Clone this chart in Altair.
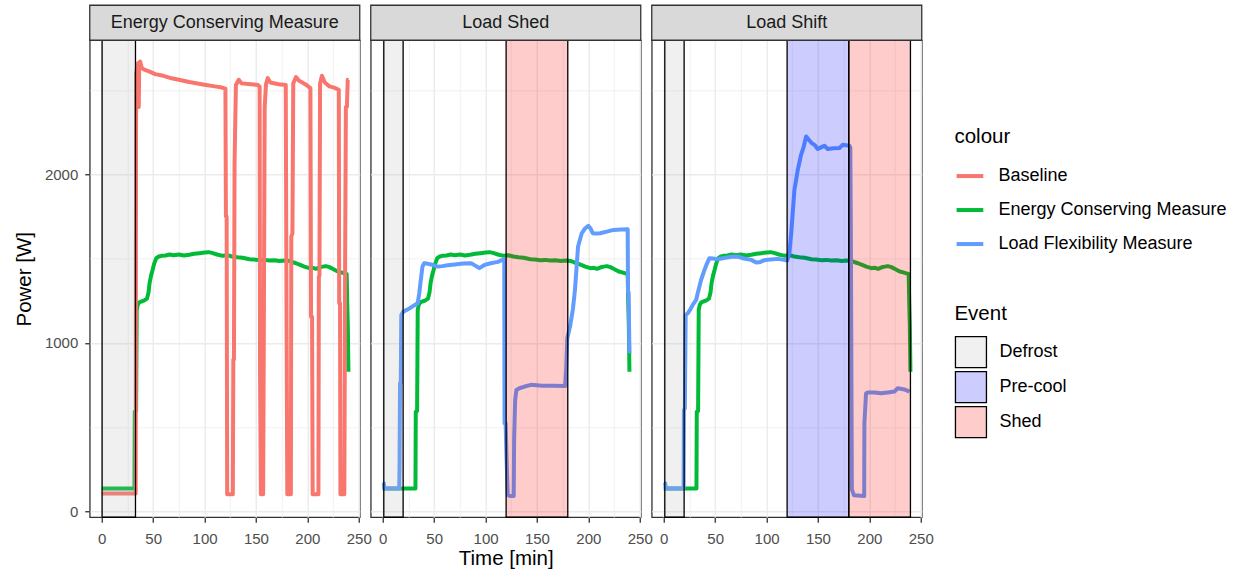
import altair as alt
import pandas as pd

# ---------------- data ----------------
panel_names = ["Energy Conserving Measure", "Load Shed", "Load Shift"]
series_names = ["Baseline", "Energy Conserving Measure", "Load Flexibility Measure"]
series_colors = ["#F8766D", "#00BA38", "#619CFF"]
event_names = ["Defrost", "Pre-cool", "Shed"]
event_key = ["#F0F0F0", "#CCCCFF", "#FFCCCC"]       # legend keys
# tint colours (drawn at 20 % opacity over the lines); listed in reverse order
tint_names = ["Shed", "Pre-cool", "Defrost"]
tint_fill = ["#FF0000", "#0000FF", "#B3B3B3"]

# Energy Conserving Measure (same run shown in every panel)
ecm_t = [0, 31.8, 32.1, 33.4, 34.0, 35.0, 36.5, 38.5, 41.0, 44.0, 45.5, 46.5, 48.0, 49.5, 51.0,
         53.0, 55.5, 58.0, 62, 66, 70, 75, 80, 85, 90, 95, 100, 104, 108, 112, 117.7, 122, 127,
         132, 137, 143.7, 148, 153.4, 158, 163, 168, 173, 178, 182.6, 186, 189, 193, 197, 202,
         205.5, 208.5, 212, 215, 218, 221.5, 225, 229.6, 233, 236, 238.3, 238.8, 239.4, 240.0]
ecm_w = [135, 135, 590, 595, 1195, 1225, 1240, 1245, 1250, 1262, 1300, 1354, 1400, 1433, 1470,
         1502, 1512, 1516, 1518, 1524, 1520, 1524, 1518, 1522, 1528, 1532, 1536, 1538, 1532, 1524,
         1516, 1520, 1512, 1508, 1505, 1496, 1494, 1490, 1492, 1488, 1490, 1486, 1488, 1486, 1478,
         1472, 1462, 1452, 1443, 1445, 1439, 1448, 1452, 1455, 1449, 1438, 1423, 1418, 1412, 1409,
         1245, 1100, 828]

# Baseline
base_t = [0, 33.0, 33.4, 34.5, 35.5, 36.0, 36.4, 37.3, 39, 42, 46, 52, 60, 68, 75, 85, 100, 110,
          117, 120.3, 120.8, 121.5, 122.0, 127.5, 128.0, 128.6, 129.2, 130.5, 133.3, 136, 145, 152,
          153.6, 154.0, 154.8, 157.0, 157.5, 158.5, 159.8, 161.5, 164, 172, 179, 179.8, 180.5,
          184.0, 184.4, 185.5, 186.3, 189, 192, 198, 203, 203.6, 204.6, 205.2, 210.8, 211.2, 211.8,
          212.4, 214.2, 217, 221.5, 226, 230.6, 231.0, 231.8, 232.2, 236.0, 236.8, 237.5, 238.5,
          239.3, 240.0]
base_w = [105, 105, 2600, 2640, 2660, 2400, 2640, 2670, 2630, 2620, 2611, 2595, 2585, 2570, 2561,
          2548, 2532, 2522, 2515, 2508, 1750, 1750, 100, 100, 900, 900, 2066, 2530, 2561, 2540,
          2535, 2530, 2520, 800, 100, 100, 810, 2400, 2535, 2571, 2545, 2535, 2530, 1100, 100, 100,
          1630, 1650, 2540, 2577, 2555, 2535, 2512, 1155, 1155, 100, 100, 1393, 1400, 2540, 2585,
          2545, 2522, 2515, 2502, 1234, 1234, 100, 100, 1500, 2400, 2400, 2561, 2560]

# Load Flexibility Measure - Load Shed
shed_t = [0, 1.0, 1.5, 16.0, 16.3, 16.8, 17.5, 18.0, 20, 25, 30, 34, 35.5, 37, 38.6, 40.2, 43, 47,
          53.5, 58, 63, 70, 78, 86, 90, 94, 99, 105, 112, 117.7, 118.2, 118.5, 119.5, 120.5, 121.6,
          124, 127.4, 127.8, 128.8, 130, 132.9, 138, 144.3, 155, 165, 177.4, 178.5, 179.5, 182.2,
          185, 187, 190, 193.6, 197, 200, 202, 204.3, 208, 211.4, 218, 224.4, 232, 238.3, 238.6,
          239.2, 240.0]
shed_w = [170, 165, 135, 135, 254, 760, 760, 1165, 1185, 1200, 1220, 1235, 1294, 1373, 1452, 1472,
          1470, 1465, 1452, 1455, 1460, 1465, 1470, 1472, 1458, 1443, 1462, 1472, 1480, 1496, 1496,
          522, 522, 300, 96, 90, 90, 432, 660, 720, 730, 740, 750, 745, 745, 743, 850, 1027, 1096,
          1200, 1314, 1571, 1650, 1680, 1694, 1680, 1650, 1648, 1650, 1660, 1670, 1672, 1674, 1300,
          1300, 938]

# Load Flexibility Measure - Load Shift
shift_t = [0, 1.5, 2.0, 19.3, 19.6, 20.5, 21.3, 23.3, 26, 28.2, 31.5, 33, 36.3, 39.6, 42, 44.4,
           47.7, 52.5, 60, 66, 72, 78, 85, 90, 94, 98, 104, 111, 117, 120, 122.2, 124, 127.1, 130.4,
           133.6, 136.2, 138.5, 141.7, 144, 146.6, 149.8, 153, 156.3, 159.5, 165, 170.9, 174, 180.6,
           181.5, 182.0, 183.0, 185, 195, 195.2, 196.8, 198.4, 205, 211.4, 218, 224.4, 227.6, 234.1,
           239]
shift_w = [170, 165, 135, 135, 600, 610, 1165, 1175, 1200, 1225, 1254, 1294, 1373, 1432, 1470, 1502,
           1500, 1496, 1505, 1510, 1512, 1500, 1492, 1476, 1480, 1490, 1495, 1498, 1492, 1488, 1532,
           1650, 1908, 2027, 2116, 2165, 2225, 2201, 2185, 2175, 2150, 2160, 2170, 2150, 2155, 2156,
           2175, 2170, 2160, 1690, 130, 95, 90, 522, 700, 704, 705, 700, 705, 710, 730, 723, 710]

# events per panel
ev1_name, ev1_start, ev1_end = ["Defrost"], [0.3], [32.8]
ev2_name, ev2_start, ev2_end = ["Defrost", "Shed"], [1.0, 120], [19.8, 180]
ev3_name, ev3_start, ev3_end = ["Defrost", "Pre-cool", "Shed"], [1.0, 120, 180], [19.8, 180, 240]

x_grid = [0, 25, 50, 75, 100, 125, 150, 175, 200, 225, 250]
y_grid = [0, 500, 1000, 1500, 2000, 2500]

# ---------------- layout constants ----------------
W, H = 270, 477
XDOM = [-11.7, 251.0]
YDOM = [-36, 2796]
FONT = "Liberation Sans"

def sdf(name, ts, ws):
    return pd.DataFrame({"t": ts, "w": ws, "series": name, "idx": list(range(len(ts)))})

def edf(names, starts, ends):
    return pd.DataFrame({"event": names, "key": names, "start": starts, "end": ends})

stroke_legend = alt.Legend(title="colour", orient="none", legendX=864.7, legendY=86.8,
                           symbolType="stroke", symbolSize=713, symbolStrokeWidth=4,
                           labelOffset=13, rowPadding=9, titlePadding=13)
fill_legend = alt.Legend(title="Event", orient="none", legendX=864.7, legendY=263.8,
                         symbolType="square", symbolSize=961, symbolStrokeColor="black",
                         symbolStrokeWidth=1.3, labelOffset=12, rowPadding=-5.5, titlePadding=11)

def panel(title, lines, ev, first, middle):
    x_axis = alt.Axis(values=x_grid, labelExpr="datum.value % 50 === 0 ? datum.label : ''",
                      tickOpacity={"condition": {"test": "datum.value % 50 !== 0", "value": 0}, "value": 1},
                      gridWidth={"condition": {"test": "datum.value % 50 === 0", "value": 1.4}, "value": 0.7},
                      labelFlush=False, labelBound=False, labelOverlap=False,
                      title="Time [min]" if middle else None,
                      titleX=W / 2, titleY=47.2, titleAlign="center", titleBaseline="alphabetic")
    ygrid_w = {"condition": {"test": "datum.value % 1000 === 0", "value": 1.4}, "value": 0.7}
    if first:
        y_axis = alt.Axis(values=y_grid, format="d",
                          labelExpr="datum.value % 1000 === 0 ? datum.label : ''",
                          tickOpacity={"condition": {"test": "datum.value % 1000 !== 0", "value": 0}, "value": 1},
                          gridWidth=ygrid_w, labelOverlap=False, title="Power [W]",
                          titleX=-65.3, titleY=H / 2, titleAngle=270, titleAlign="center",
                          titleBaseline="middle")
    else:
        y_axis = alt.Axis(values=y_grid, labels=False, ticks=False, title=None, gridWidth=ygrid_w)

    xs = alt.Scale(domain=XDOM, nice=False, zero=False)
    ys = alt.Scale(domain=YDOM, nice=False, zero=False)

    layers = []
    for df in lines:
        layers.append(
            alt.Chart(df).mark_line(strokeWidth=4, strokeJoin="round", clip=True).encode(
                x=alt.X("t:Q", scale=xs, axis=x_axis),
                y=alt.Y("w:Q", scale=ys, axis=y_axis),
                stroke=alt.Stroke("series:N", scale=alt.Scale(domain=series_names, range=series_colors),
                                  legend=stroke_legend),
                order=alt.Order("idx:Q"),
            ))
    # translucent event shading drawn over the lines
    layers.append(
        alt.Chart(ev).mark_rect(fillOpacity=0.2, stroke="black", strokeWidth=1.3).encode(
            x=alt.X("start:Q", scale=xs, axis=x_axis), x2="end:Q",
            y=alt.value(0), y2=alt.value(H),
            color=alt.Color("event:N", scale=alt.Scale(domain=tint_names, range=tint_fill), legend=None),
        ))
    # zero-size rects that only carry the "Event" legend
    layers.append(
        alt.Chart(ev).mark_rect().encode(
            x=alt.X("start:Q", scale=xs, axis=x_axis), x2="start:Q",
            y=alt.value(0), y2=alt.value(0),
            fill=alt.Fill("key:N", scale=alt.Scale(domain=event_names, range=event_key),
                          legend=fill_legend),
        ))
    strip_df = pd.DataFrame({"label": [title]})
    layers.append(
        alt.Chart(strip_df).mark_rect(fill="#D9D9D9", stroke="#333333", strokeWidth=1.3).encode(
            x=alt.value(0), x2=alt.value(W), y=alt.value(-35), y2=alt.value(0)))
    layers.append(
        alt.Chart(strip_df).mark_text(font=FONT, fontSize=18, color="#1A1A1A", baseline="middle").encode(
            x=alt.value(W / 2), y=alt.value(-17), text="label:N"))
    return alt.layer(*layers).properties(width=W, height=H)

p1 = panel(panel_names[0],
           [sdf(series_names[1], ecm_t, ecm_w), sdf(series_names[0], base_t, base_w)],
           edf(ev1_name, ev1_start, ev1_end), True, False)
p2 = panel(panel_names[1],
           [sdf(series_names[1], ecm_t, ecm_w), sdf(series_names[2], shed_t, shed_w)],
           edf(ev2_name, ev2_start, ev2_end), False, True)
p3 = panel(panel_names[2],
           [sdf(series_names[1], ecm_t, ecm_w), sdf(series_names[2], shift_t, shift_w)],
           edf(ev3_name, ev3_start, ev3_end), False, False)

chart = alt.hconcat(p1, p2, p3, spacing=11, bounds="flush").properties(
    padding={"left": 13.75, "top": 3.25, "right": 5, "bottom": 5},
    background="white",
).configure_view(
    stroke="#333333", strokeWidth=1.3
).configure_axis(
    domain=False, gridColor="#EBEBEB", tickColor="#333333", tickSize=5, tickWidth=1.3,
    labelFont=FONT, labelFontSize=15, labelColor="#4D4D4D", labelPadding=9,
    titleFont=FONT, titleFontSize=20.5, titleFontWeight="normal", titleColor="black",
).configure_axisY(
    labelPadding=7
).configure_legend(
    labelFont=FONT, labelFontSize=18, labelColor="black", labelLimit=400,
    titleFont=FONT, titleFontSize=20.5, titleFontWeight="normal", titleColor="black",
)

chart.save("out.html", embed_options={"renderer": "svg", "actions": False})
